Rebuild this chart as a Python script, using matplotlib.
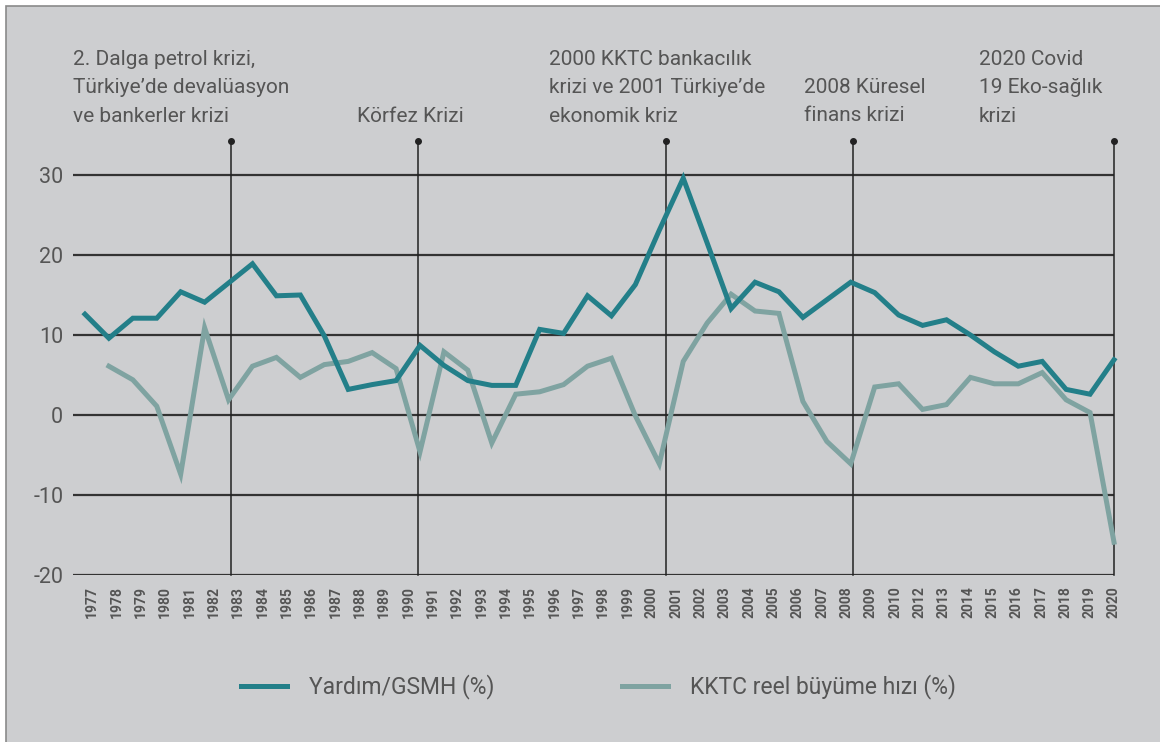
import numpy as np
import matplotlib
matplotlib.use('Agg')
import matplotlib.pyplot as plt
from matplotlib import font_manager
from matplotlib.patches import Rectangle

# data
years = list(range(1977, 2021))
yardim = [12.6, 9.6, 12.1, 12.1, 15.4, 14.1, 16.5, 18.9, 14.9, 15.0,
          9.9, 3.2, 3.8, 4.3, 8.7, 6.2, 4.3, 3.7, 3.7, 10.7,
          10.2, 14.9, 12.4, 16.3, 23.1, 29.6, 21.5, 13.3, 16.6, 15.4,
          12.2, 14.4, 16.6, 15.3, 12.5, 11.2, 11.9, 10.0, 7.9, 6.1,
          6.7, 3.2, 2.6, 6.9]
buyume = [np.nan,
          6.1, 4.4, 1.1, -7.4, 10.9, 1.9, 6.1, 7.2, 4.7, 6.3,
          6.7, 7.8, 5.8, -4.6, 7.9, 5.6, -3.5, 2.6, 2.9, 3.8,
          6.1, 7.1, -0.1, -6.1, 6.7, 11.5, 15.1, 13.0, 12.7, 1.7,
          -3.3, -6.1, 3.5, 3.9, 0.7, 1.3, 4.7, 3.9, 3.9, 5.3,
          1.9, 0.3, -15.9]
tick_labels = [str(y) for y in range(1977, 2021) if y != 2011]
yticks = [-20, -10, 0, 10, 20, 30]

crisis_x = [1983.1, 1990.9, 2001.3, 2009.1, 2020]
crisis_text = [
    ["2. Dalga petrol krizi,", "Türkiye’de devalüasyon", "ve bankerler krizi"],
    ["Körfez Krizi"],
    ["2000 KKTC bankacılık", "krizi ve 2001 Türkiye’de", "ekonomik kriz"],
    ["2008 Küresel", "finans krizi"],
    ["2020 Covid", "19 Eko-sağlık", "krizi"],
]
# left x (px) and first baseline (px) of each note
crisis_text_pos = [(73, 65), (357, 122), (549, 65), (804, 93), (979, 65)]

BG = '#cdced0'
BLUE = '#237f89'
GREY = '#7fa3a1'
TXT = '#555555'

names = {f.name for f in font_manager.fontManager.ttflist}
font = 'Liberation Sans Narrow' if 'Liberation Sans Narrow' in names else 'Roboto'
plt.rcParams['font.family'] = [font, 'DejaVu Sans']

W, H = 1160, 742
fig = plt.figure(figsize=(W / 100, H / 100), dpi=100)
fig.patch.set_facecolor('white')
fig.add_artist(Rectangle((6 / W, -0.1), 1.2, 1 - 6 / H + 0.1, transform=fig.transFigure,
                         facecolor=BG, edgecolor='#8a8a8a', linewidth=1.2, zorder=-1))

# axes: x 73..1114 px, y 575 (=-20) .. 141 (=34.25)
ax = fig.add_axes([73 / W, (H - 575) / H, (1114 - 73) / W, (575 - 141) / H])
ax.set_facecolor(BG)
ax.set_xlim(1976.5, 2020)
ax.set_ylim(-20, 34.25)
for s in ax.spines.values():
    s.set_visible(False)

for v in yticks:
    ax.axhline(v, color='#333333', linewidth=1.6, zorder=1)

for cx in crisis_x:
    ax.plot([cx, cx], [-20, 34.25], color='#222222', linewidth=1.1, zorder=1, clip_on=False)
    ax.plot([cx], [34.25], 'o', color='#222222', markersize=4, zorder=1, clip_on=False)

l1, = ax.plot(years, yardim, color=BLUE, linewidth=3.6, zorder=3, clip_on=False,
              solid_joinstyle='miter', label='Yardım/GSMH (%)')
l2, = ax.plot(years, buyume, color=GREY, linewidth=3.6, zorder=2, clip_on=False,
              solid_joinstyle='miter', label='KKTC reel büyüme hızı (%)')

ax.set_yticks(yticks)
ax.set_yticklabels([str(v) for v in yticks], fontsize=15.5, color=TXT)
ax.set_xticks(np.linspace(1977.3, 2020, len(tick_labels)))
ax.set_xticklabels(tick_labels, rotation=90, fontsize=10, fontweight='bold', color=TXT,
                   ha='center', va='top')
ax.tick_params(axis='both', length=0)
ax.tick_params(axis='y', pad=7)
ax.tick_params(axis='x', pad=8)

for lines, (px, py) in zip(crisis_text, crisis_text_pos):
    for k, line in enumerate(lines):
        fig.text(px / W, 1 - (py + k * 28.3) / H, line, fontsize=15, color=TXT,
                 ha='left', va='baseline')

fig.legend(handles=[l1, l2], loc='center left', bbox_to_anchor=(241 / W, 1 - 687 / H),
           ncol=2, frameon=False, fontsize=16.5, handlelength=2.0, handletextpad=0.95,
           columnspacing=5.6, borderpad=0, borderaxespad=0, labelcolor=TXT)

fig.savefig('out.png', dpi=100, facecolor=fig.get_facecolor())
